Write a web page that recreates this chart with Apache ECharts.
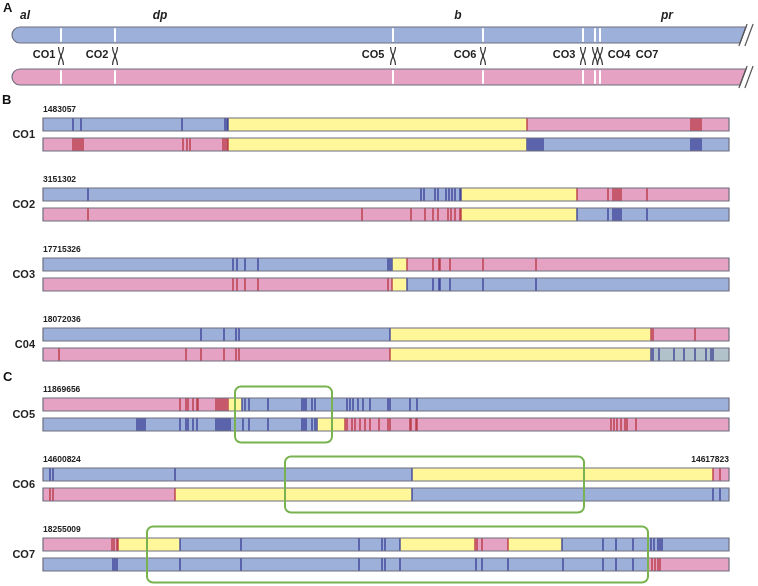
<!DOCTYPE html>
<html><head><meta charset="utf-8">
<script src="https://cdn.jsdelivr.net/npm/echarts/dist/echarts.min.js"></script>
<style>html,body{margin:0;padding:0;background:#fff}#c{width:758px;height:586px}</style>
</head><body><div id="c"></div>
<script>
// ---------- Panel A: whole chromosome (positions in arbitrary map units along the arm) ----------
const chromLength = 731;
const chromosomeStates = ['B', 'P'];
const geneNames = ['al', 'dp', 'b', 'pr'];
const genePositions = [13, 148, 446, 655];
const crossoverNames = ['CO1', 'CO2', 'CO5', 'CO6', 'CO3', 'CO4', 'CO7'];
const crossoverPositions = [49, 103, 381, 471, 571, 583, 588];
const crossoverLabelPositions = [32, 85, 361, 453, 552, 607, 635];

// ---------- Panels B / C: zoomed crossover regions (relative units along each region) ----------
const trackNames = ['CO1', 'CO2', 'CO3', 'C04', 'CO5', 'CO6', 'CO7'];
const trackStartLabels = ['1483057', '3151302', '17715326', '18072036', '11869656', '14600824', '18255009'];
const trackEndLabels = ['', '', '', '', '', '14617823', ''];
const trackLength = 686;
// segments: [start, end, state]  B = parent 1, P = parent 2, Y = conversion tract, G = ambiguous
const co1Upper = [[0, 185, 'B'], [185, 484, 'Y'], [484, 686, 'P']];
const co1UpperSnps = [30, 38, 139, 182, 184, 648, 650, 652, 654, 656, 658];
const co1Lower = [[0, 185, 'P'], [185, 484, 'Y'], [484, 686, 'B']];
const co1LowerSnps = [30, 32, 34, 36, 38, 40, 140, 144, 147, 180, 182, 184, 486, 488, 490, 492, 494, 496, 498, 500, 648, 650, 652, 654, 656, 658];

const co2Upper = [[0, 418, 'B'], [418, 534, 'Y'], [534, 686, 'P']];
const co2UpperSnps = [45, 378, 381, 392, 395, 403, 406, 409, 412, 417, 565, 570, 572, 574, 576, 578, 604];
const co2Lower = [[0, 418, 'P'], [418, 534, 'Y'], [534, 686, 'B']];
const co2LowerSnps = [45, 319, 368, 382, 390, 395, 405, 408, 412, 417, 565, 570, 572, 574, 576, 578, 604];

const co3Upper = [[0, 349, 'B'], [349, 364, 'Y'], [364, 686, 'P']];
const co3UpperSnps = [190, 194, 202, 215, 345, 347, 390, 396, 397, 407, 440, 493];
const co3Lower = [[0, 349, 'P'], [349, 364, 'Y'], [364, 686, 'B']];
const co3LowerSnps = [190, 194, 202, 215, 345, 390, 396, 397, 407, 440, 493];

const co4Upper = [[0, 347, 'B'], [347, 608, 'Y'], [608, 686, 'P']];
const co4UpperSnps = [158, 181, 193, 196, 610, 652];
const co4Lower = [[0, 347, 'P'], [347, 608, 'Y'], [608, 686, 'G']];
const co4LowerSnps = [16, 143, 158, 181, 193, 196, 610, 616, 631, 641, 652, 663, 668, 670];

const co5Upper = [[0, 185, 'P'], [185, 199, 'Y'], [199, 686, 'B']];
const co5UpperSnps = [137, 143, 145, 150, 154, 155, 173, 175, 177, 179, 181, 183, 202, 206, 225, 259, 261, 263, 269, 272, 304, 307, 310, 315, 320, 327, 345, 347, 367, 374];
const co5Lower = [[0, 274, 'B'], [274, 302, 'Y'], [302, 686, 'P']];
const co5LowerSnps = [94, 96, 98, 100, 102, 137, 143, 145, 150, 154, 173, 175, 177, 179, 181, 183, 185, 187, 200, 206, 225, 259, 261, 263, 269, 272, 304, 309, 312, 317, 322, 327, 336, 345, 347, 367, 368, 373, 374, 568, 571, 574, 578, 582, 584, 593];

const co6Upper = [[0, 369, 'B'], [369, 670, 'Y'], [670, 686, 'P']];
const co6UpperSnps = [7, 10, 132, 677];
const co6Lower = [[0, 132, 'P'], [132, 369, 'Y'], [369, 686, 'B']];
const co6LowerSnps = [7, 10, 670, 677];

const co7Upper = [[0, 75, 'P'], [75, 137, 'Y'], [137, 357, 'B'], [357, 432, 'Y'], [432, 465, 'P'], [465, 519, 'Y'], [519, 686, 'B']];
const co7UpperSnps = [69, 71, 74, 198, 316, 339, 342, 434, 439, 560, 573, 590, 608, 611, 615, 617, 619];
const co7Lower = [[0, 605, 'B'], [605, 686, 'P']];
const co7LowerSnps = [70, 72, 74, 137, 198, 316, 339, 342, 357, 433, 439, 465, 520, 560, 573, 590, 609, 612, 615, 617];

// highlighted windows: [track index, start, end]
const highlightBoxes = [[4, 192, 289], [5, 242, 541], [6, 104, 605]];

// ---------- styling ----------
const FILL = { B: '#9cb0d9', P: '#e5a2c2', Y: '#fff79a', G: '#b2c2ca' };
const DARK = { B: '#383b92', P: '#b5343e', G: '#383b92' };
const EDGE = '#6e6e80';
const FONT = "'Liberation Sans', Arial, sans-serif";

const strandData = [
  [co1Upper, co1UpperSnps, co1Lower, co1LowerSnps],
  [co2Upper, co2UpperSnps, co2Lower, co2LowerSnps],
  [co3Upper, co3UpperSnps, co3Lower, co3LowerSnps],
  [co4Upper, co4UpperSnps, co4Lower, co4LowerSnps],
  [co5Upper, co5UpperSnps, co5Lower, co5LowerSnps],
  [co6Upper, co6UpperSnps, co6Lower, co6LowerSnps],
  [co7Upper, co7UpperSnps, co7Lower, co7LowerSnps]
];

function darkAt(segs, p) {
  let i = segs.findIndex(s => p >= s[0] && p < s[1]);
  if (i < 0) i = segs.length - 1;
  let st = segs[i][2];
  if (st === 'Y') {
    const prev = segs[i - 1], next = segs[i + 1];
    const usePrev = prev && (!next || p - segs[i][0] <= segs[i][1] - p);
    st = usePrev ? prev[2] : next[2];
  }
  return DARK[st];
}

const segItems = [], snpItems = [], outlineItems = [];
trackNames.forEach((name, t) => {
  const [uSegs, uSnps, lSegs, lSnps] = strandData[t];
  [[uSegs, uSnps], [lSegs, lSnps]].forEach(([segs, snps], k) => {
    segs.forEach((s, i) => {
      segItems.push({ v: [s[0], t, s[1], k], color: FILL[s[2]] });
      if (i > 0) {
        const st = s[2] === 'Y' ? segs[i - 1][2] : s[2];
        snpItems.push({ v: [s[0], t, k], color: DARK[st] });
      }
    });
    snps.forEach(p => snpItems.push({ v: [p, t, k], color: darkAt(segs, p) }));
    outlineItems.push({ v: [segs[0][0], t, segs[segs.length - 1][1], k] });
  });
});

const STRAND_OFF = 10, BAR_H = 13;
function strandY(cy, k) { return cy + (k === 0 ? -STRAND_OFF : STRAND_OFF); }

const chart = echarts.init(document.getElementById('c'));
const option = {
  animation: false,
  backgroundColor: '#fff',
  graphic: [
    { type: 'text', left: 3, top: 2, style: { text: 'A', font: 'bold 13px ' + FONT, fill: '#111' } },
    { type: 'text', left: 2, top: 94, style: { text: 'B', font: 'bold 13px ' + FONT, fill: '#111' } },
    { type: 'text', left: 3, top: 371, style: { text: 'C', font: 'bold 13px ' + FONT, fill: '#111' } }
  ],
  grid: [
    { left: 12, top: 35, width: 731, height: 42 },
    { left: 43, top: 134.5, width: 686, height: 420 }
  ],
  xAxis: [
    { gridIndex: 0, type: 'value', min: 0, max: chromLength, show: false },
    { gridIndex: 1, type: 'value', min: 0, max: trackLength, show: false }
  ],
  yAxis: [
    { gridIndex: 0, type: 'value', min: 0, max: 1, inverse: true, show: false },
    {
      gridIndex: 1, type: 'value', min: 0, max: trackNames.length - 1, interval: 1, inverse: true,
      axisLine: { show: false }, axisTick: { show: false }, splitLine: { show: false },
      axisLabel: {
        margin: 8, fontSize: 11, fontWeight: 'bold', color: '#222', fontFamily: FONT,
        formatter: v => trackNames[v] || ''
      }
    }
  ],
  series: [
    // Panel A chromosomes
    {
      type: 'custom', xAxisIndex: 0, yAxisIndex: 0, clip: false, z: 2,
      data: chromosomeStates.map((s, i) => [0, i]),
      encode: { x: 0, y: 1 },
      renderItem: (params, api) => {
        const row = api.value(1);
        const L = api.coord([0, row]), R = api.coord([chromLength, row]);
        const cy = L[1], T = cy - 8, B = cy + 8, x0 = L[0], x1 = R[0], r = 8;
        const d = `M${x0 + r},${T} L${x1 + 3},${T} L${x1 - 3},${B} L${x0 + r},${B} A${r},${r} 0 0 1 ${x0 + r},${T} Z`;
        const children = [
          { type: 'path', shape: { pathData: d }, style: { fill: FILL[chromosomeStates[row]], stroke: EDGE, lineWidth: 1.2 } }
        ];
        crossoverPositions.forEach(p => {
          const x = api.coord([p, row])[0];
          children.push({ type: 'line', shape: { x1: x, y1: T + 1.2, x2: x, y2: B - 1.2 }, style: { stroke: '#fff', lineWidth: 2 } });
        });
        [0, 6].forEach(o => children.push({
          type: 'line', shape: { x1: x1 - 4.1 + o, y1: B + 3, x2: x1 + 4.1 + o, y2: T - 3 },
          style: { stroke: '#555', lineWidth: 1.2 }
        }));
        return { type: 'group', children };
      }
    },
    // crossover marks and labels
    {
      type: 'custom', xAxisIndex: 0, yAxisIndex: 0, clip: false, z: 3,
      data: crossoverPositions.map((p, i) => [p, 0.5, crossoverLabelPositions[i]]),
      encode: { x: 0, y: 1 },
      renderItem: (params, api) => {
        const c = api.coord([api.value(0), 0.5]);
        const x = c[0], y = c[1];
        const lx = api.coord([api.value(2), 0.5])[0];
        return {
          type: 'group', children: [
            { type: 'bezierCurve', shape: { x1: x - 2.5, y1: y - 9, cpx1: x - 2.5, cpy1: y - 2, cpx2: x + 2.5, cpy2: y + 2, x2: x + 2.5, y2: y + 9 }, style: { stroke: '#333', lineWidth: 1.2, fill: null } },
            { type: 'bezierCurve', shape: { x1: x + 2.5, y1: y - 9, cpx1: x + 2.5, cpy1: y - 2, cpx2: x - 2.5, cpy2: y + 2, x2: x - 2.5, y2: y + 9 }, style: { stroke: '#333', lineWidth: 1.2, fill: null } },
            { type: 'text', style: { text: crossoverNames[params.dataIndex], x: lx, y: y - 1.5, align: 'center', verticalAlign: 'middle', font: 'bold 11px ' + FONT, fill: '#222' } }
          ]
        };
      }
    },
    // gene labels
    {
      type: 'custom', xAxisIndex: 0, yAxisIndex: 0, clip: false, z: 3,
      data: genePositions.map(p => [p, 0]),
      encode: { x: 0, y: 1 },
      renderItem: (params, api) => {
        const c = api.coord([api.value(0), 0]);
        return { type: 'text', style: { text: geneNames[params.dataIndex], x: c[0], y: c[1] - 19, align: 'center', verticalAlign: 'middle', font: 'italic bold 12px ' + FONT, fill: '#222' } };
      }
    },
    // Panel B/C segments
    {
      type: 'custom', xAxisIndex: 1, yAxisIndex: 1, clip: false, z: 2,
      data: segItems.map(d => d.v),
      encode: { x: [0, 2], y: 1 },
      renderItem: (params, api) => {
        const it = segItems[params.dataIndex];
        const a = api.coord([api.value(0), api.value(1)]);
        const b = api.coord([api.value(2), api.value(1)]);
        const cy = strandY(a[1], api.value(3));
        return { type: 'rect', shape: { x: a[0], y: cy - BAR_H / 2, width: b[0] - a[0], height: BAR_H }, style: { fill: it.color } };
      }
    },
    // SNP markers
    {
      type: 'custom', xAxisIndex: 1, yAxisIndex: 1, clip: false, z: 3,
      data: snpItems.map(d => d.v),
      encode: { x: 0, y: 1 },
      renderItem: (params, api) => {
        const it = snpItems[params.dataIndex];
        const a = api.coord([api.value(0), api.value(1)]);
        const cy = strandY(a[1], api.value(2));
        return { type: 'line', shape: { x1: a[0], y1: cy - BAR_H / 2, x2: a[0], y2: cy + BAR_H / 2 }, style: { stroke: it.color, lineWidth: 1.3 } };
      }
    },
    // strand outlines
    {
      type: 'custom', xAxisIndex: 1, yAxisIndex: 1, clip: false, z: 4,
      data: outlineItems.map(d => d.v),
      encode: { x: [0, 2], y: 1 },
      renderItem: (params, api) => {
        const a = api.coord([api.value(0), api.value(1)]);
        const b = api.coord([api.value(2), api.value(1)]);
        const cy = strandY(a[1], api.value(3));
        return { type: 'rect', shape: { x: a[0], y: cy - BAR_H / 2, width: b[0] - a[0], height: BAR_H }, style: { fill: null, stroke: EDGE, lineWidth: 1.2 } };
      }
    },
    // region coordinate labels
    {
      type: 'custom', xAxisIndex: 1, yAxisIndex: 1, clip: false, z: 4,
      data: trackNames.map((n, t) => [0, t]),
      encode: { x: 0, y: 1 },
      renderItem: (params, api) => {
        const t = params.dataIndex;
        const a = api.coord([0, t]);
        const b = api.coord([trackLength, t]);
        const y = strandY(a[1], 0) - BAR_H / 2 - 8;
        const children = [{ type: 'text', style: { text: trackStartLabels[t], x: a[0], y, align: 'left', verticalAlign: 'middle', font: 'bold 8.5px ' + FONT, fill: '#222' } }];
        if (trackEndLabels[t]) children.push({ type: 'text', style: { text: trackEndLabels[t], x: b[0], y, align: 'right', verticalAlign: 'middle', font: 'bold 8.5px ' + FONT, fill: '#222' } });
        return { type: 'group', children };
      }
    },
    // highlight boxes
    {
      type: 'custom', xAxisIndex: 1, yAxisIndex: 1, clip: false, z: 5,
      data: highlightBoxes.map(b => [b[1], b[0], b[2]]),
      encode: { x: [0, 2], y: 1 },
      renderItem: (params, api) => {
        const a = api.coord([api.value(0), api.value(1)]);
        const b = api.coord([api.value(2), api.value(1)]);
        return { type: 'rect', shape: { x: a[0], y: a[1] - 28, width: b[0] - a[0], height: 56, r: 6 }, style: { fill: null, stroke: '#78b350', lineWidth: 2 } };
      }
    }
  ]
};
chart.setOption(option);
</script>
</body></html>
